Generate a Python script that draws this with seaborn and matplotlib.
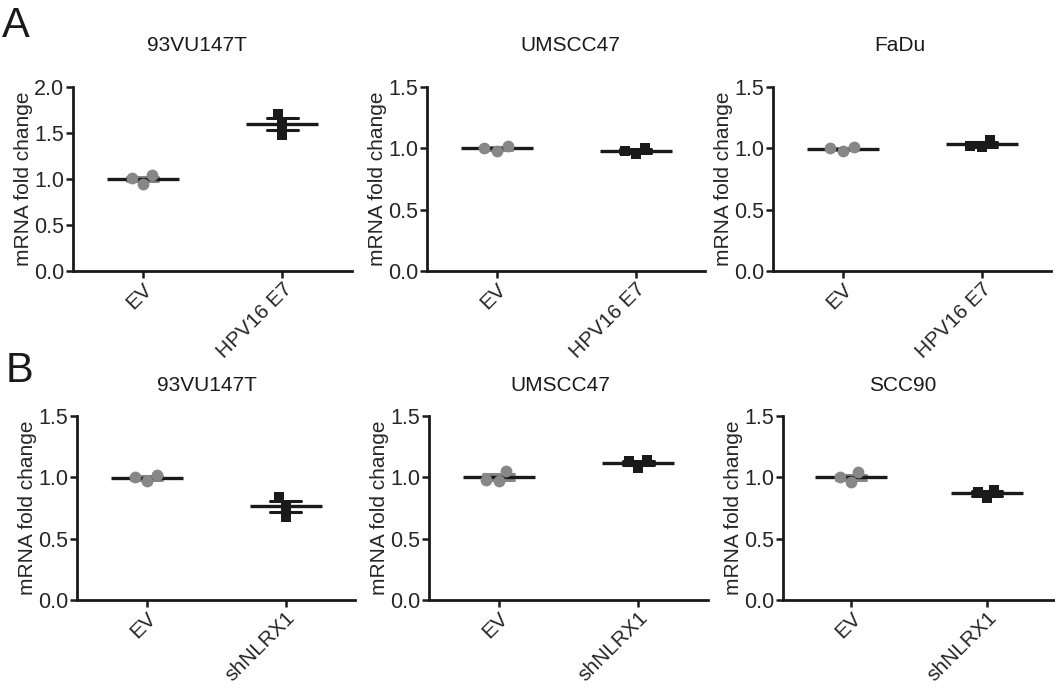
import matplotlib
matplotlib.use("Agg")
import matplotlib.pyplot as plt
import seaborn as sns
import pandas as pd
import numpy as np

sns.set_style("ticks")
plt.rcParams['font.family'] = ['Liberation Sans', 'DejaVu Sans']

# ---------------- data ----------------
titles_A = ["93VU147T", "UMSCC47", "FaDu"]
groups_A = ["EV", "HPV16 E7"]
A1_EV = [1.04, 0.95, 1.01]
A1_E7 = [1.71, 1.48, 1.60]
A2_EV = [1.02, 0.98, 1.00]
A2_E7 = [1.00, 0.95, 0.98]
A3_EV = [1.01, 0.98, 1.00]
A3_E7 = [1.07, 1.01, 1.02]

titles_B = ["93VU147T", "UMSCC47", "SCC90"]
groups_B = ["EV", "shNLRX1"]
B1_EV = [1.02, 0.97, 1.00]
B1_SH = [0.84, 0.68, 0.77]
B2_EV = [1.05, 0.97, 0.98]
B2_SH = [1.14, 1.08, 1.13]
B3_EV = [1.04, 0.96, 1.00]
B3_SH = [0.90, 0.83, 0.88]

ylims = [2.0, 1.5, 1.5, 1.5, 1.5, 1.5]
ylabel = "mRNA fold change"

panels = [
    (titles_A[0], groups_A, A1_EV, A1_E7),
    (titles_A[1], groups_A, A2_EV, A2_E7),
    (titles_A[2], groups_A, A3_EV, A3_E7),
    (titles_B[0], groups_B, B1_EV, B1_SH),
    (titles_B[1], groups_B, B2_EV, B2_SH),
    (titles_B[2], groups_B, B3_EV, B3_SH),
]

# ---------------- layout (pixels) ----------------
W, H = 1055, 688
# left, right, top, bottom, title-x (px)
boxes = [
    (73, 352, 87, 271, 197),
    (427, 705, 87, 271, 570),
    (773, 1051, 87, 271, 900),
    (77, 355, 416, 600, 207),
    (429, 708, 416, 600, 560),
    (783, 1055, 416, 600, 903),
]
title_pads = [26, 26, 26, 18, 18, 18]

GRAY = "#878787"
BLACK = "#1a1a1a"

fig = plt.figure(figsize=(W / 100, H / 100), dpi=100)

for i, ((title, groups, ev, tr), (l, r, t, b, tx)) in enumerate(zip(panels, boxes)):
    ax = fig.add_axes([l / W, 1 - b / H, (r - l) / W, (b - t) / H])
    df = pd.DataFrame({
        "group": [groups[0]] * len(ev) + [groups[1]] * len(tr),
        "value": ev + tr,
    })
    # SEM error bars
    sns.pointplot(data=df, x="group", y="value", hue="group", order=groups,
                  hue_order=groups, palette=[GRAY, BLACK], errorbar="se",
                  capsize=0.22, linestyle="none", marker="",
                  err_kws={"linewidth": 2.2}, legend=False, ax=ax)
    # points
    sns.swarmplot(data=df[df.group == groups[0]], x="group", y="value",
                  order=groups, color=GRAY, marker="o", size=8.5, ax=ax)
    sns.swarmplot(data=df[df.group == groups[1]], x="group", y="value",
                  order=groups, color=BLACK, marker="s", size=7.8, ax=ax)
    # mean line
    sns.pointplot(data=df, x="group", y="value", order=groups, color=BLACK,
                  errorbar=None, linestyle="none", marker="_", markersize=52,
                  markeredgewidth=2.4, ax=ax)

    ax.set_xlim(-0.5, 1.5)
    ax.set_ylim(0, ylims[i])
    ticks = np.arange(0, ylims[i] + 0.01, 0.5)
    ax.set_yticks(ticks)
    ax.set_yticklabels([f"{v:.1f}" for v in ticks])
    ax.set_xlabel("")
    ax.set_ylabel(ylabel, fontsize=15, labelpad=0.5)
    ax.set_xticks([0, 1])
    ax.set_xticklabels(groups, rotation=45, ha="right", rotation_mode="anchor")
    ax.tick_params(axis="both", width=1.8, length=5, color=BLACK)
    ax.tick_params(axis="y", labelsize=15.5, pad=1.5)
    ax.tick_params(axis="x", labelsize=15, pad=1)
    for s in ["top", "right"]:
        ax.spines[s].set_visible(False)
    for s in ["left", "bottom"]:
        ax.spines[s].set_linewidth(2)
        ax.spines[s].set_color(BLACK)
    ax.text((tx - l) / (r - l), 1.0 + (title_pads[i] * 1.389) / (b - t), title,
            transform=ax.transAxes, ha="center", va="baseline", fontsize=15,
            color=BLACK)

fig.text(2 / W, 1 - 37 / H, "A", fontsize=30, ha="left", va="baseline", color=BLACK)
fig.text(6 / W, 1 - 382 / H, "B", fontsize=30, ha="left", va="baseline", color=BLACK)

fig.savefig("out.png", dpi=100, facecolor="white")
